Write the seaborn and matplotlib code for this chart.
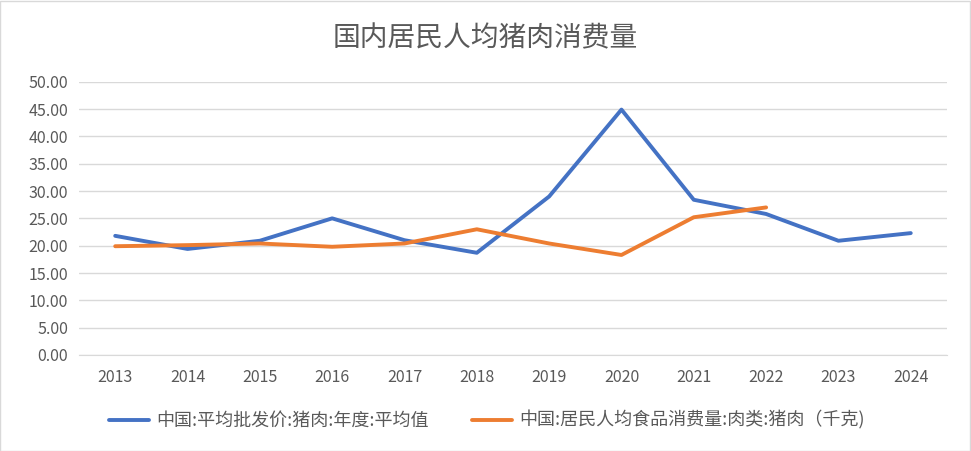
import pandas as pd
import numpy as np
import seaborn as sns
import matplotlib.pyplot as plt
from matplotlib.patches import Rectangle

years = [2013, 2014, 2015, 2016, 2017, 2018, 2019, 2020, 2021, 2022, 2023, 2024]
price = [21.8, 19.4, 20.9, 25.0, 21.0, 18.7, 29.0, 44.9, 28.4, 25.8, 20.9, 22.3]
consumption = [19.9, 20.1, 20.4, 19.8, 20.4, 23.0, 20.4, 18.3, 25.2, 27.0, np.nan, np.nan]

name1 = '中国:平均批发价:猪肉:年度:平均值'
name2 = '中国:居民人均食品消费量:肉类:猪肉（千克)'

df = pd.DataFrame({'year': years, name1: price, name2: consumption})
df = df.melt(id_vars='year', var_name='series', value_name='value')

sns.set_style('white')
plt.rcParams['font.family'] = ['Noto Sans CJK SC', 'DejaVu Sans']

fig = plt.figure(figsize=(9.71, 4.51), dpi=100)
ax = fig.add_axes([0.0814, 0.2129, 0.8938, 0.6059])

sns.lineplot(data=df, x='year', y='value', hue='series', ax=ax,
             palette=['#4472C4', '#ED7D31'], linewidth=2.8, legend=True)

ax.set_xlim(2012.5, 2024.5)
ax.set_ylim(0, 50)
ax.set_yticks(np.arange(0, 51, 5))
ax.set_yticklabels(['%.2f' % v for v in np.arange(0, 51, 5)])
ax.set_xticks(years)
ax.set_xticks(np.arange(2012.5, 2025, 1), minor=True)
ax.tick_params(axis='x', which='major', length=0, pad=10, labelsize=11.5, labelcolor='#595959')
ax.tick_params(axis='x', which='minor', length=5, color='#d9d9d9', width=1)
ax.tick_params(axis='y', length=0, pad=8, labelsize=11.5, labelcolor='#595959')
ax.grid(axis='y', color='#d9d9d9', linewidth=1)
ax.set_axisbelow(True)
for s in ['left', 'right', 'top']:
    ax.spines[s].set_visible(False)
ax.spines['bottom'].set_color('#d9d9d9')
ax.set_xlabel(None)
ax.set_ylabel(None)

leg = ax.legend(loc='upper center', bbox_to_anchor=(0.47, -0.145), ncol=2, frameon=False,
                fontsize=13, handlelength=2.2, columnspacing=2.4, handletextpad=0.4)
for t in leg.get_texts():
    t.set_color('#595959')

fig.suptitle('国内居民人均猪肉消费量', y=0.916, va='center', fontsize=20, color='#595959')
fig.patches.append(Rectangle((0.0005, 0.001), 0.998, 0.997, transform=fig.transFigure,
                             fill=False, edgecolor='#d9d9d9', linewidth=1))

fig.savefig('out.png', dpi=100)
